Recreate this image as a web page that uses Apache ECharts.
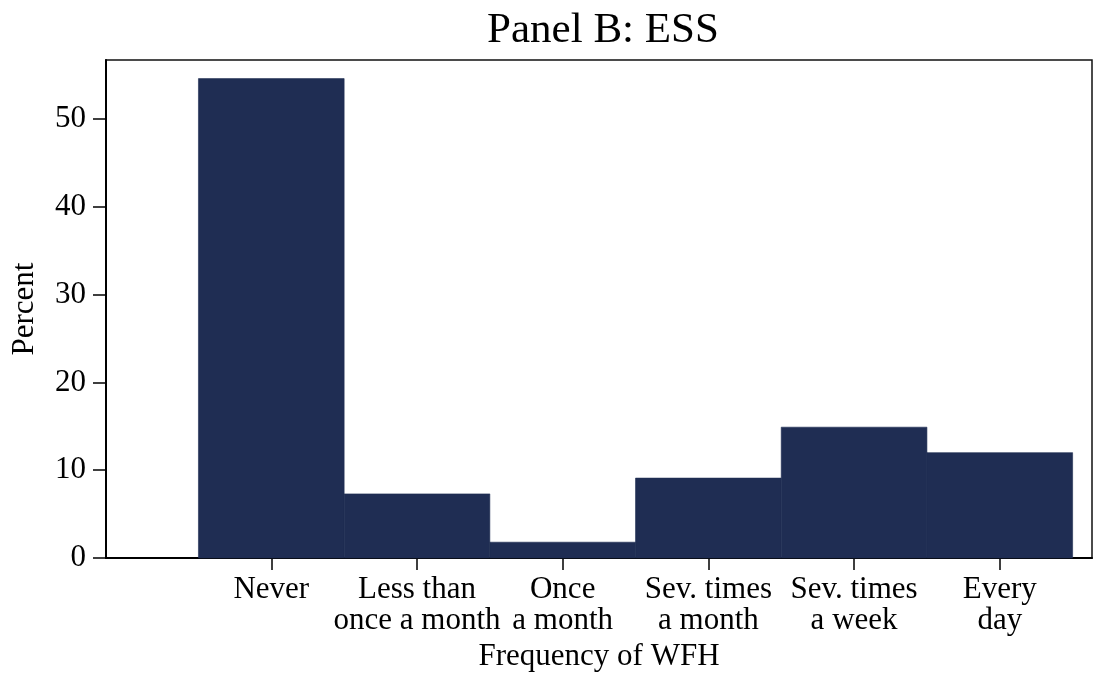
<!DOCTYPE html>
<html>
<head>
<meta charset="utf-8">
<script src="https://cdn.jsdelivr.net/npm/echarts@6/dist/echarts.min.js"></script>
<style>html,body{margin:0;padding:0;background:#fff;}#c{width:1096px;height:675px;}</style>
</head>
<body>
<div id="c"></div>
<script>
const categories = ["Never", "Less than\nonce a month", "Once\na month", "Sev. times\na month", "Sev. times\na week", "Every\nday"];
const positions = [1, 2, 3, 4, 5, 6];
const percents = [54.6, 7.3, 1.8, 9.1, 14.9, 12.0];
const yTicks = [0, 10, 20, 30, 40, 50];

const FONT = "'Liberation Serif', 'Times New Roman', serif";
const chart = echarts.init(document.getElementById('c'), null, {renderer: 'canvas'});
const data = positions.map((p, i) => [p, percents[i]]);

chart.setOption({
  animation: false,
  backgroundColor: '#ffffff',
  title: {
    text: 'Panel B: ESS',
    left: 598,
    textAlign: 'center',
    top: 4,
    textStyle: {fontFamily: FONT, fontSize: 43, fontWeight: 'normal', color: '#000'}
  },
  grid: {left: 106, right: 4, top: 60, bottom: 117, containLabel: false, outerBoundsMode: 'none',
         show: true, borderColor: '#111', borderWidth: 1.5, backgroundColor: 'transparent'},
  xAxis: {
    type: 'value',
    min: -0.1345,
    max: 6.633,
    splitLine: {show: false},
    axisLine: {show: true, onZero: false, lineStyle: {color: '#000', width: 2}},
    axisTick: {show: true, length: 12, lineStyle: {color: '#000', width: 1.5}, customValues: positions},
    axisLabel: {
      customValues: positions,
      formatter: v => categories[positions.indexOf(Math.round(v))] || '',
      fontFamily: FONT, fontSize: 31, color: '#000', lineHeight: 31, margin: 16
    },
    name: 'Frequency of WFH',
    nameLocation: 'middle',
    nameGap: 78,
    nameTextStyle: {fontFamily: FONT, fontSize: 31, color: '#000'}
  },
  yAxis: {
    type: 'value',
    min: 0,
    max: 56.72,
    interval: 10,
    splitLine: {show: false},
    axisLine: {show: true, onZero: false, lineStyle: {color: '#000', width: 2}},
    axisTick: {show: true, length: 13, lineStyle: {color: '#000', width: 1.5}, customValues: yTicks},
    axisLabel: {customValues: yTicks, fontFamily: FONT, fontSize: 31, color: '#000', margin: 20},
    name: 'Percent',
    nameLocation: 'middle',
    nameGap: 66,
    nameRotate: 90,
    nameTextStyle: {fontFamily: FONT, fontSize: 31, color: '#000'}
  },
  series: [{
    type: 'custom',
    data: data,
    encode: {x: 0, y: 1},
    renderItem: function (params, api) {
      const x = api.value(0), y = api.value(1);
      const p0 = api.coord([x - 0.5, y]);
      const p1 = api.coord([x + 0.5, 0]);
      return {
        type: 'rect',
        shape: {x: p0[0], y: p0[1], width: p1[0] - p0[0], height: p1[1] - p0[1]},
        style: {fill: '#1f2d53', stroke: '#1f2d53', lineWidth: 0.6}
      };
    }
  }]
});
</script>
</body>
</html>
